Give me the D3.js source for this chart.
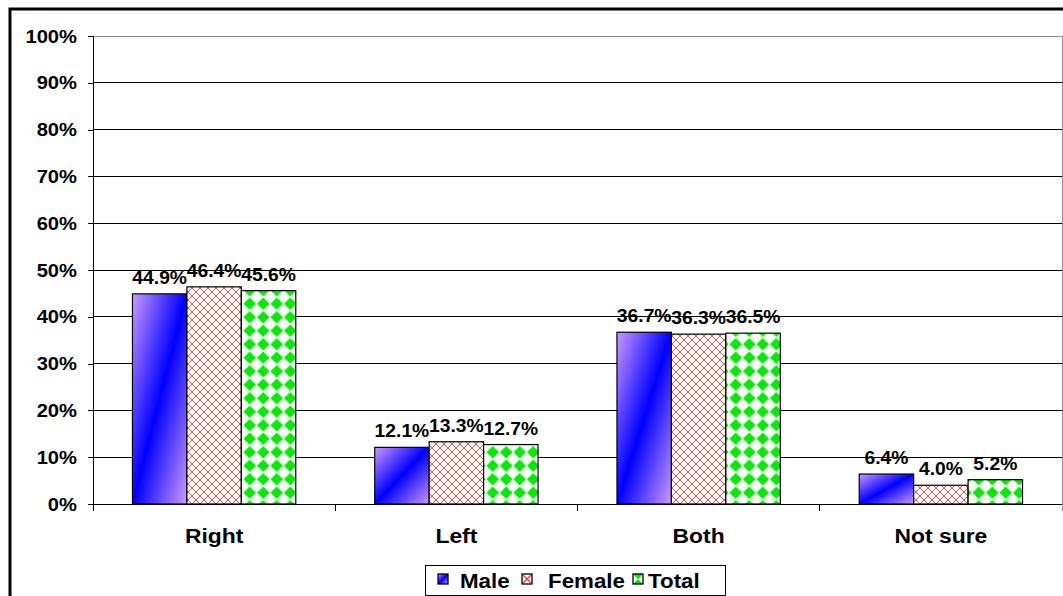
<!DOCTYPE html>
<html>
<head>
<meta charset="utf-8">
<script src="https://cdn.jsdelivr.net/npm/d3@7"></script>
<style>
  html, body { margin: 0; padding: 0; background: #fff; }
  svg { display: block; font-family: Arial, "Liberation Sans", sans-serif; }
</style>
</head>
<body>
<svg id="chart" width="1063" height="596"></svg>
<script>
// Survey answers by gender
const categories = ["Right", "Left", "Both", "Not sure"];
const seriesNames = ["Male", "Female", "Total"];
const male   = [44.9, 12.1, 36.7, 6.4];
const female = [46.4, 13.3, 36.3, 4.0];
const total  = [45.6, 12.7, 36.5, 5.2];
const yTicks = [0, 10, 20, 30, 40, 50, 60, 70, 80, 90, 100];

const seriesValues = [male, female, total];

const svg = d3.select("#chart");
const W = 1063, H = 596;
const plot = { left: 93, right: 1062, top: 36, bottom: 504 };
const STRETCH = 1.09; // text is drawn slightly wide

// places a text inside a horizontally stretched group anchored at (x, y)
function wideText(parent, x, y, str, size, anchor) {
  const g = parent.append("g").attr("transform", `translate(${x},${y}) scale(${STRETCH},1)`);
  g.append("text")
    .attr("x", 0).attr("y", 0)
    .attr("text-anchor", anchor)
    .attr("font-size", size)
    .attr("font-weight", "bold")
    .attr("fill", "#000")
    .text(str);
  return g;
}

// ---- fills ----
const defs = svg.append("defs");

const grad = defs.append("linearGradient")
  .attr("id", "maleFill")
  .attr("x1", 0).attr("y1", 0).attr("x2", 1).attr("y2", 1);
grad.append("stop").attr("offset", "0%").attr("stop-color", "#cc99ff");
grad.append("stop").attr("offset", "50%").attr("stop-color", "#0000ff");
grad.append("stop").attr("offset", "100%").attr("stop-color", "#cc99ff");

const hatch = defs.append("pattern")
  .attr("id", "femaleFill")
  .attr("patternUnits", "userSpaceOnUse")
  .attr("width", 8).attr("height", 8);
hatch.append("rect").attr("width", 8).attr("height", 8).attr("fill", "#fff2f0");
hatch.append("path")
  .attr("d", "M0,0L8,8M8,0L0,8M-1,7L1,9M7,-1L9,1M-1,1L1,-1M7,9L9,7")
  .attr("stroke", "#b86a6a").attr("stroke-width", 1).attr("fill", "none");

const blur = defs.append("filter").attr("id", "soft")
  .attr("x", "-20%").attr("y", "-20%").attr("width", "140%").attr("height", "140%");
blur.append("feGaussianBlur").attr("stdDeviation", 0.6);

const dots = defs.append("pattern")
  .attr("id", "totalFill")
  .attr("patternUnits", "userSpaceOnUse")
  .attr("width", 13.5).attr("height", 13.5);
dots.append("rect").attr("width", 13.5).attr("height", 13.5).attr("fill", "#f6fff6");
dots.append("path")
  .attr("d", "M6.75,0.4L13.1,6.75L6.75,13.1L0.4,6.75Z")
  .attr("fill", "#0be60b").attr("filter", "url(#soft)");

const fills = ["url(#maleFill)", "url(#femaleFill)", "url(#totalFill)"];

// ---- outer frame ----
svg.append("rect")
  .attr("x", 10).attr("y", 9)
  .attr("width", W + 20).attr("height", H + 20)
  .attr("fill", "none").attr("stroke", "#000").attr("stroke-width", 3);

// ---- scales ----
const x0 = d3.scaleBand().domain(categories).range([plot.left, plot.right]).paddingInner(0).paddingOuter(0);
const x1 = d3.scaleBand().domain(seriesNames).range([0, x0.bandwidth()]).paddingInner(0).paddingOuter(0.725);
const y = d3.scaleLinear().domain([0, 100]).range([plot.bottom, plot.top]);

// ---- gridlines ----
svg.append("g")
  .selectAll("line")
  .data(yTicks.filter(t => t > 0 && t < 100))
  .join("line")
  .attr("x1", plot.left).attr("x2", plot.right)
  .attr("y1", d => y(d)).attr("y2", d => y(d))
  .attr("stroke", "#000").attr("stroke-width", 1)
  .attr("shape-rendering", "crispEdges");

// plot area border (top and right)
svg.append("path")
  .attr("d", `M${plot.left},${plot.top}H${plot.right}V${plot.bottom}`)
  .attr("fill", "none").attr("stroke", "#8c8c8c").attr("stroke-width", 1)
  .attr("shape-rendering", "crispEdges");

// ---- y axis ----
const yAxis = d3.axisLeft(y)
  .tickValues(yTicks)
  .tickFormat("")
  .tickSize(5);
const gy = svg.append("g")
  .attr("transform", `translate(${plot.left},0)`)
  .attr("shape-rendering", "crispEdges")
  .call(yAxis);
gy.select(".domain").remove();
gy.append("line")
  .attr("x1", 0).attr("x2", 0)
  .attr("y1", plot.top).attr("y2", plot.bottom + 7)
  .attr("stroke", "#000");
gy.selectAll(".tick line").attr("stroke", "#000");

const yLabels = svg.append("g");
yTicks.forEach(t => {
  wideText(yLabels, plot.left - 16, y(t) + 6.5, t + "%", 18.5, "end");
});

// ---- x axis ----
const gx = svg.append("g").attr("shape-rendering", "crispEdges");
gx.append("line")
  .attr("x1", plot.left).attr("x2", plot.right)
  .attr("y1", plot.bottom).attr("y2", plot.bottom)
  .attr("stroke", "#000");
const bounds = categories.map(c => x0(c)).concat([x0(categories[categories.length - 1]) + x0.bandwidth()]);
gx.selectAll("line.cat")
  .data(bounds.slice(1))
  .join("line")
  .attr("class", "cat")
  .attr("x1", d => Math.min(d, plot.right)).attr("x2", d => Math.min(d, plot.right))
  .attr("y1", plot.bottom).attr("y2", plot.bottom + 7)
  .attr("stroke", d => d >= plot.right - 1 ? "#8c8c8c" : "#000");

const catLabels = svg.append("g");
categories.forEach(c => {
  wideText(catLabels, x0(c) + x0.bandwidth() / 2, 543, c, 21, "middle");
});

// ---- bars ----
const rows = [];
categories.forEach((c, i) => {
  seriesNames.forEach((s, j) => {
    rows.push({ cat: c, series: s, si: j, value: seriesValues[j][i] });
  });
});

svg.append("g")
  .selectAll("rect")
  .data(rows)
  .join("rect")
  .attr("x", d => x0(d.cat) + x1(d.series))
  .attr("y", d => y(d.value))
  .attr("width", x1.bandwidth())
  .attr("height", d => y(0) - y(d.value))
  .attr("fill", d => fills[d.si])
  .attr("stroke", "#000")
  .attr("stroke-width", 1.2);

// value labels
const valLabels = svg.append("g");
rows.forEach(d => {
  wideText(valLabels,
    x0(d.cat) + x1(d.series) + x1.bandwidth() / 2,
    y(d.value) - 10,
    d.value.toFixed(1) + "%", 17.7, "middle");
});

// ---- legend ----
const legend = svg.append("g");
legend.append("rect")
  .attr("x", 425.5).attr("y", 565.5)
  .attr("width", 300).attr("height", 30)
  .attr("fill", "#fff").attr("stroke", "#000").attr("stroke-width", 1);

const legendItems = [
  { name: seriesNames[0], sx: 438, tx: 460 },
  { name: seriesNames[1], sx: 522, tx: 548 },
  { name: seriesNames[2], sx: 633, tx: 648 }
];
const sw = 10, sy = 574;

legendItems.forEach((it, i) => {
  const g = legend.append("g");
  if (i === 0) {
    g.append("rect").attr("x", it.sx).attr("y", sy).attr("width", sw).attr("height", sw)
      .attr("fill", "url(#maleFill)");
  } else if (i === 1) {
    g.append("rect").attr("x", it.sx).attr("y", sy).attr("width", sw).attr("height", sw)
      .attr("fill", "#fff");
    g.append("path")
      .attr("d", `M${it.sx + 1},${sy + 1}L${it.sx + sw - 1},${sy + sw - 1}M${it.sx + sw - 1},${sy + 1}L${it.sx + 1},${sy + sw - 1}`)
      .attr("stroke", "#ff3333").attr("stroke-width", 1.4);
  } else {
    g.append("rect").attr("x", it.sx).attr("y", sy).attr("width", sw).attr("height", sw)
      .attr("fill", "#fff");
    g.append("path")
      .attr("d", `M${it.sx},${sy}H${it.sx + sw}L${it.sx + sw / 2},${sy + sw / 2}Z M${it.sx},${sy + sw}H${it.sx + sw}L${it.sx + sw / 2},${sy + sw / 2}Z`)
      .attr("fill", "#00e600");
  }
  g.append("rect").attr("x", it.sx).attr("y", sy).attr("width", sw).attr("height", sw)
    .attr("fill", "none").attr("stroke", "#000").attr("stroke-width", 1.3);
  wideText(g, it.tx, 588, it.name, 20.5, "start");
});
</script>
</body>
</html>
